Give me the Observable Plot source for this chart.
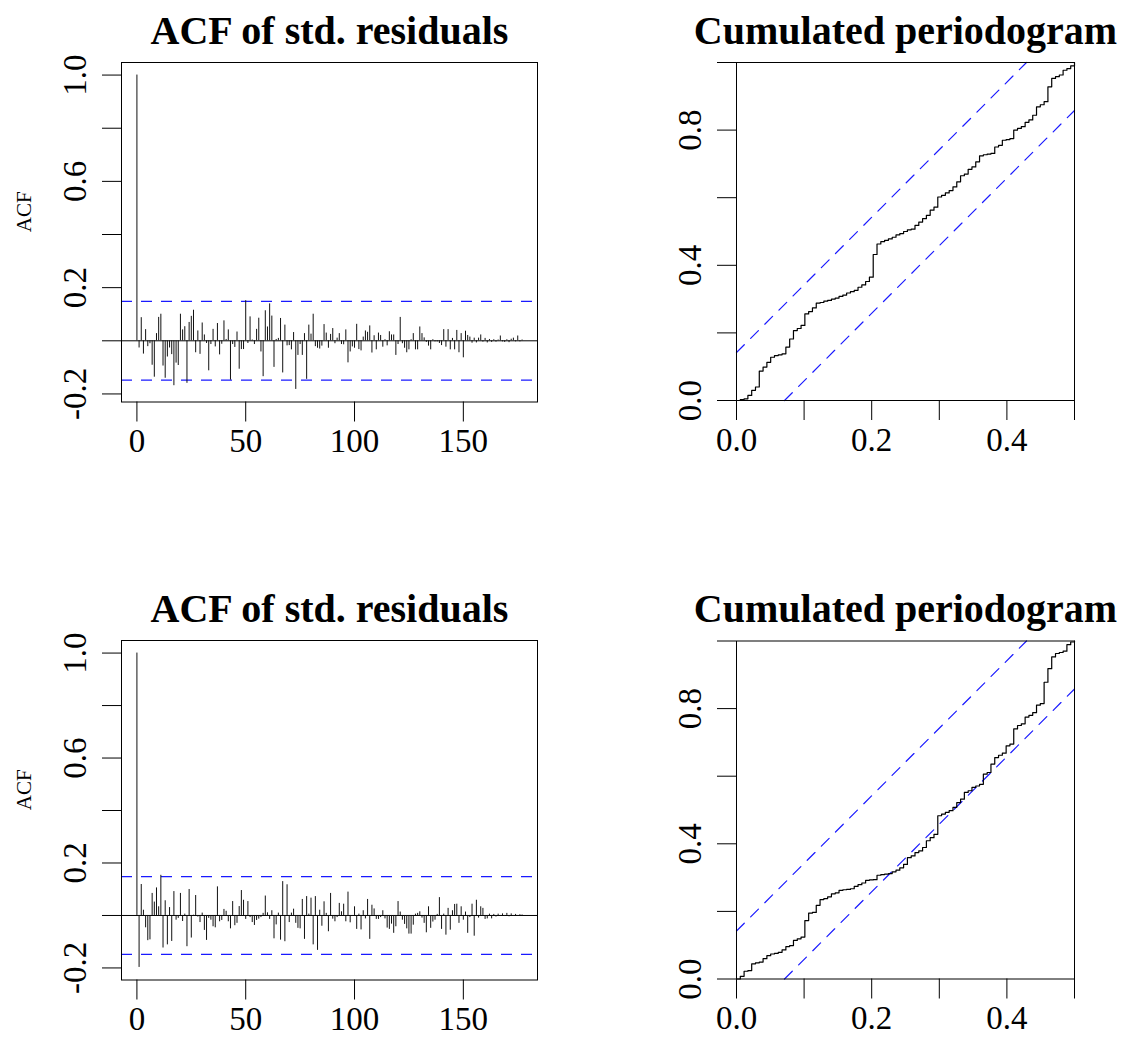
<!DOCTYPE html>
<html><head><meta charset="utf-8">
<script src="https://cdn.jsdelivr.net/npm/d3@7"></script>
<script src="https://cdn.jsdelivr.net/npm/@observablehq/plot@0.6"></script>
<style>
html,body{margin:0;padding:0;background:#fff;}
#root{position:relative;width:1126px;height:1043px;overflow:hidden;background:#fff;}
.panel{position:absolute;}
.panel svg{overflow:visible;}
</style></head><body><div id="root"></div>
<script>
// ---- data ----
const acfTitle = "ACF of std. residuals";
const cpTitle = "Cumulated periodogram";
const acfYLabel = "ACF";
const acfClim = 0.148;      // significance band of the ACF plots
const cpCrit = 0.142;       // KS band of the cumulated periodogram
const nFreq = 178;          // series length used for the Fourier frequencies

const acfXTicks = [0, 50, 100, 150];
const acfYTicks = [-0.2, 0, 0.2, 0.4, 0.6, 0.8, 1.0];
const acfYLabels = [-0.2, 0.2, 0.6, 1.0];
const cpXTicks = [0, 0.1, 0.2, 0.3, 0.4, 0.5];
const cpXLabels = [0, 0.2, 0.4];
const cpYTicks = [0, 0.2, 0.4, 0.6, 0.8, 1.0];
const cpYLabels = [0, 0.4, 0.8];

const acfTop = [
 1.000,-0.027, 0.087,-0.050, 0.042,-0.022,-0.011,-0.092,-0.137, 0.027,
 0.088, 0.100,-0.095,-0.141,-0.061,-0.027,-0.052,-0.169,-0.084,-0.093,
 0.100, 0.041, 0.053,-0.160, 0.069, 0.092, 0.115,-0.045, 0.037,-0.051,
 0.067, 0.022,-0.010,-0.113,-0.014, 0.043,-0.023, 0.065,-0.053,-0.013,
 0.075, 0.005, 0.041,-0.148,-0.014,-0.025, 0.033,-0.107,-0.033,-0.033,
 0.151,-0.010, 0.090, 0.003,-0.014, 0.043, 0.085,-0.042,-0.135, 0.113,
 0.052, 0.139, 0.093,-0.100, 0.005, 0.009, 0.084,-0.121, 0.059,-0.019,
-0.018,-0.034, 0.031,-0.183,-0.055,-0.014,-0.055, 0.027,-0.145, 0.059,
 0.025, 0.100,-0.022,-0.028,-0.031,-0.020, 0.061, 0.029,-0.028, 0.024,
 0.046,-0.011, 0.010, 0.027,-0.014,-0.015, 0.041,-0.083,-0.042,-0.023,
-0.028, 0.062,-0.033,-0.038, 0.014, 0.037, 0.032, 0.056,-0.046, 0.019,
-0.034, 0.029, 0.020,-0.024, 0.004,-0.019, 0.034, 0.022, 0.022,-0.055,
-0.014, 0.088,-0.011,-0.028,-0.045,-0.034, 0.004, 0.027,-0.034,-0.034,
 0.052, 0.027, 0.011,-0.006,-0.020,-0.034, 0.004,-0.004,-0.004,-0.010,
-0.018, 0.042,-0.024, 0.042,-0.034, 0.009,-0.034, 0.039,-0.045, 0.027,
-0.064, 0.036, 0.020, 0.014,-0.009, 0.010,-0.008, 0.010, 0.022,-0.005,
 0.009,-0.008, 0.005,-0.006, 0.004,-0.005, 0.003, 0.018,-0.004,-0.006,
 0.004,-0.007, 0.006, 0.010,-0.004, 0.018,-0.004, 0.003
];

const acfBottom = [
 1.000,-0.198, 0.118, 0.020,-0.047,-0.096,-0.093, 0.084, 0.051, 0.105,
 0.033, 0.153,-0.124, 0.056,-0.112, 0.030,-0.099, 0.091,-0.018,-0.011,
 0.084,-0.023, 0.005,-0.119, 0.099,-0.086, 0.001, 0.076,-0.006,-0.027,
 0.009,-0.057,-0.095,-0.011,-0.018,-0.043,-0.047, 0.109,-0.024,-0.019,
 0.023, 0.016,-0.024,-0.051, 0.053,-0.039,-0.030, 0.034, 0.095, 0.058,
-0.015, 0.053,-0.008,-0.027,-0.038,-0.019,-0.014,-0.008, 0.008, 0.074,
 0.010,-0.015, 0.018,-0.089,-0.036, 0.009,-0.094, 0.129,-0.100, 0.117,
-0.027, 0.009, 0.024,-0.030,-0.049,-0.051, 0.061,-0.091, 0.072, 0.005,
 0.066,-0.112, 0.072,-0.133, 0.020,-0.041, 0.052, 0.008,-0.062, 0.084,
-0.014,-0.024,-0.008, 0.046, 0.014, 0.043,-0.024, 0.089,-0.028,-0.003,
 0.033,-0.053, 0.005,-0.055, 0.018,-0.013, 0.061,-0.091, 0.039, 0.025,
-0.015,-0.015,-0.008, 0.018,-0.013,-0.048,-0.053,-0.033,-0.068,-0.043,
 0.053, 0.013,-0.018,-0.034,-0.051,-0.071,-0.071,-0.037, 0.005, 0.008,
 0.014,-0.010,-0.030,-0.066, 0.033,-0.049,-0.025,-0.018, 0.004, 0.068,
-0.053, 0.005,-0.075, 0.027,-0.056, 0.018, 0.042, 0.043,-0.030, 0.033,
-0.018, 0.013,-0.068,-0.008, 0.043,-0.079, 0.058,-0.010, 0.033, 0.027,
-0.015,-0.013, 0.005,-0.013, 0.004,-0.006, 0.005,-0.003, 0.006,-0.004,
 0.008,-0.005, 0.006,-0.003, 0.004,-0.002, 0.003, 0.002
];

const cpTop = [
 0.000, 0.003, 0.005, 0.015, 0.030, 0.040, 0.087, 0.099, 0.113, 0.128,
 0.133, 0.135, 0.138, 0.158, 0.182, 0.207, 0.213, 0.222, 0.256, 0.263,
 0.274, 0.288, 0.290, 0.294, 0.296, 0.300, 0.303, 0.308, 0.312, 0.318,
 0.322, 0.326, 0.335, 0.342, 0.352, 0.365, 0.432, 0.463, 0.470, 0.474,
 0.478, 0.483, 0.490, 0.494, 0.500, 0.505, 0.507, 0.518, 0.528, 0.538,
 0.548, 0.563, 0.572, 0.602, 0.607, 0.614, 0.621, 0.632, 0.647, 0.665,
 0.670, 0.684, 0.691, 0.706, 0.724, 0.727, 0.729, 0.731, 0.750, 0.755,
 0.770, 0.772, 0.775, 0.800, 0.805, 0.810, 0.823, 0.830, 0.844, 0.869,
 0.875, 0.884, 0.928, 0.953, 0.958, 0.963, 0.977, 0.982, 0.990, 1.000
];

const cpBottom = [
 0.000, 0.008, 0.023, 0.025, 0.045, 0.048, 0.050, 0.060, 0.069, 0.074,
 0.076, 0.079, 0.086, 0.096, 0.099, 0.114, 0.119, 0.124, 0.173, 0.195,
 0.197, 0.218, 0.235, 0.238, 0.243, 0.252, 0.255, 0.262, 0.264, 0.265,
 0.267, 0.274, 0.279, 0.284, 0.292, 0.293, 0.294, 0.307, 0.309, 0.310,
 0.312, 0.317, 0.322, 0.329, 0.339, 0.359, 0.364, 0.374, 0.379, 0.389,
 0.409, 0.418, 0.428, 0.483, 0.488, 0.493, 0.498, 0.508, 0.522, 0.532,
 0.552, 0.557, 0.567, 0.571, 0.576, 0.606, 0.611, 0.636, 0.655, 0.662,
 0.668, 0.690, 0.695, 0.740, 0.750, 0.755, 0.775, 0.780, 0.788, 0.810,
 0.815, 0.878, 0.918, 0.953, 0.963, 0.966, 0.970, 0.989, 0.997, 1.000
];

// ---- drawing ----
const FONT = "'Liberation Serif', 'Times New Roman', Times, serif";
const TICK_FS = 33, TITLE_FS = 40, YLAB_FS = 21;
const BLUE = "#1a1aff";
const DASH = "11,9";
const root = document.getElementById("root");
const fmt = (labels) => (d) => labels.some(l => Math.abs(l - d) < 1e-9) ? d.toFixed(1) : "";

function place(svg, cell) {
  const div = document.createElement("div");
  div.className = "panel";
  div.style.left = cell.x + "px";
  div.style.top = cell.y + "px";
  div.appendChild(svg);
  root.appendChild(div);
}

function axes(xTicks, xFmt, yTicks, yFmt) {
  return [
    Plot.axisX({ticks: xTicks, tickSize: 20, tickPadding: 7, fontSize: TICK_FS, label: null, tickFormat: xFmt, stroke: "black"}),
    Plot.axisY({ticks: yTicks, tickSize: 19, tickPadding: 17, tickRotate: -90, fontSize: TICK_FS, label: null, tickFormat: yFmt, stroke: "black"})
  ];
}

function acfPanel(values, cell, box, titleY) {
  const data = values.map((v, i) => ({lag: i, acf: v}));
  const ylo = Math.min(-acfClim, d3.min(values)), yhi = Math.max(acfClim, d3.max(values));
  const ypad = 0.04 * (yhi - ylo);
  const xlo = 0, xhi = values.length - 1, xpad = 0.04 * (xhi - xlo);
  const svg = Plot.plot({
    width: cell.w, height: cell.h,
    marginLeft: box.x0 - cell.x, marginRight: cell.x + cell.w - box.x1,
    marginTop: box.y0 - cell.y, marginBottom: cell.y + cell.h - box.y1,
    x: {domain: [xlo - xpad, xhi + xpad]},
    y: {domain: [ylo - ypad, yhi + ypad]},
    style: {fontFamily: FONT, color: "black", background: "transparent"},
    marks: [
      Plot.ruleY([0], {stroke: "black", strokeWidth: 1}),
      Plot.ruleY([acfClim, -acfClim], {stroke: BLUE, strokeWidth: 1.3, strokeDasharray: DASH}),
      Plot.ruleX(data, {x: "lag", y1: 0, y2: "acf", stroke: "#111", strokeWidth: 1}),
      Plot.frame({stroke: "black", strokeWidth: 1}),
      ...axes(acfXTicks, d => String(d), acfYTicks, fmt(acfYLabels)),
      Plot.text([acfTitle], {frameAnchor: "top", lineAnchor: "middle", dy: titleY - box.y0, fontSize: TITLE_FS, fontWeight: "bold"}),
      Plot.text([acfYLabel], {frameAnchor: "left", lineAnchor: "middle", dx: 24 - box.x0, rotate: -90, fontSize: YLAB_FS})
    ]
  });
  place(svg, cell);
}

function cpPanel(values, cell, box, titleY) {
  const data = values.map((v, k) => ({freq: k / nFreq, cum: v}));
  const fmax = d3.max(data, d => d.freq);
  const upper = [{f: 0, c: cpCrit}, {f: fmax * (1 - cpCrit), c: 1}];
  const lower = [{f: fmax * cpCrit, c: 0}, {f: fmax, c: 1 - cpCrit}];
  const svg = Plot.plot({
    width: cell.w, height: cell.h,
    marginLeft: box.x0 - cell.x, marginRight: cell.x + cell.w - box.x1,
    marginTop: box.y0 - cell.y, marginBottom: cell.y + cell.h - box.y1,
    x: {domain: [0, fmax]},
    y: {domain: [0, 1]},
    style: {fontFamily: FONT, color: "black", background: "transparent"},
    marks: [
      Plot.line(upper, {x: "f", y: "c", stroke: BLUE, strokeWidth: 1.2, strokeDasharray: DASH}),
      Plot.line(lower, {x: "f", y: "c", stroke: BLUE, strokeWidth: 1.2, strokeDasharray: DASH}),
      Plot.line(data, {x: "freq", y: "cum", curve: "step-after", stroke: "black", strokeWidth: 1.2}),
      Plot.frame({stroke: "black", strokeWidth: 1}),
      ...axes(cpXTicks, fmt(cpXLabels), cpYTicks, fmt(cpYLabels)),
      Plot.text([cpTitle], {frameAnchor: "top", lineAnchor: "middle", dy: titleY - box.y0, fontSize: TITLE_FS, fontWeight: "bold"})
    ]
  });
  place(svg, cell);
}

acfPanel(acfTop,    {x: 0,   y: 0,   w: 563, h: 521}, {x0: 121, x1: 537,  y0: 62,  y1: 401.5}, 31);
cpPanel(cpTop,      {x: 563, y: 0,   w: 563, h: 521}, {x0: 736, x1: 1074, y0: 62,  y1: 400}, 31);
acfPanel(acfBottom, {x: 0,   y: 521, w: 563, h: 522}, {x0: 121, x1: 537,  y0: 640, y1: 979.5}, 609);
cpPanel(cpBottom,   {x: 563, y: 521, w: 563, h: 522}, {x0: 736, x1: 1074, y0: 640.5, y1: 978.5}, 609);
</script>
</body></html>
